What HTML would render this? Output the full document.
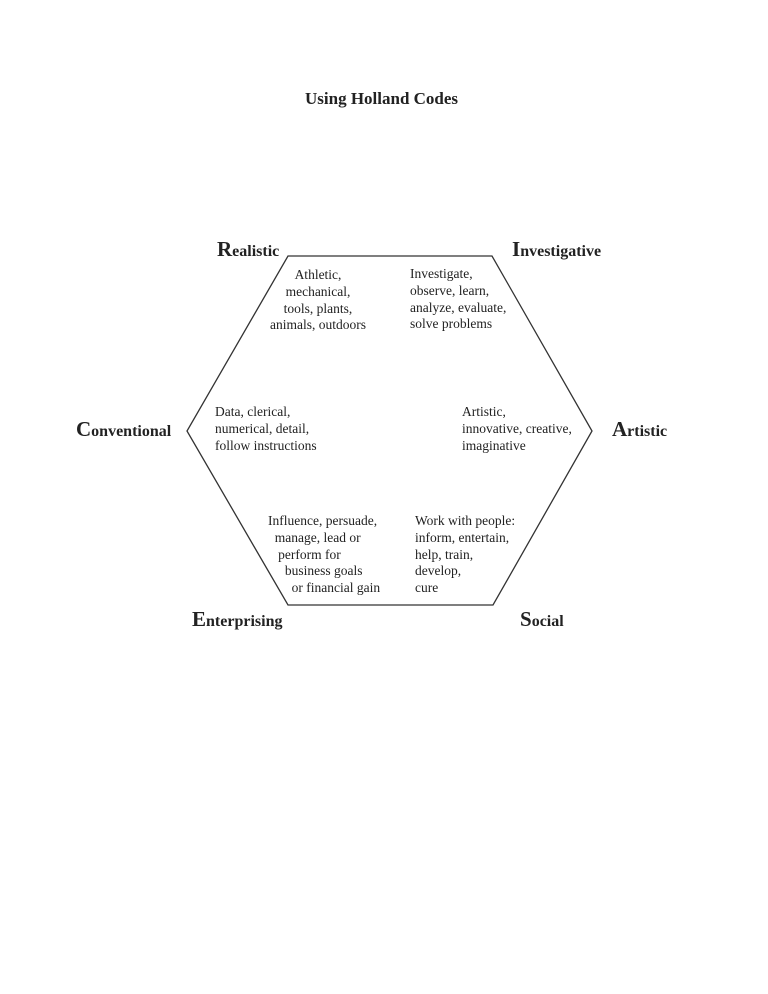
<!DOCTYPE html>
<html><head><meta charset="utf-8"><style>
body{margin:0;background:#fff;width:768px;height:994px;position:relative;font-family:"Liberation Serif",serif;color:#222}
.t{position:absolute;font-size:13.5px;line-height:16.8px;white-space:pre}
.h{position:absolute;font-weight:bold;font-size:16px;white-space:pre}
.h b{font-size:21px}
</style></head><body>
<div class="h" style="left:305px;top:89px;font-size:17px">Using Holland Codes</div>
<svg width="768" height="994" style="position:absolute;left:0;top:0">
<polygon points="288,256 492,256 592,431 493,605 288,605 187,431" fill="none" stroke="#333" stroke-width="1.3"/>
</svg>
<div class="h" style="left:217px;top:237px"><b>R</b>ealistic</div>
<div class="h" style="left:512px;top:237px"><b>I</b>nvestigative</div>
<div class="h" style="left:76px;top:417px"><b>C</b>onventional</div>
<div class="h" style="left:612px;top:417px"><b>A</b>rtistic</div>
<div class="h" style="left:192px;top:607px"><b>E</b>nterprising</div>
<div class="h" style="left:520px;top:607px"><b>S</b>ocial</div>
<div class="t" style="left:258px;width:120px;top:267px;text-align:center">Athletic,
mechanical,
tools, plants,
animals, outdoors</div>
<div class="t" style="left:410px;top:266px">Investigate,
observe, learn,
analyze, evaluate,
solve problems</div>
<div class="t" style="left:215px;top:404px">Data, clerical,
numerical, detail,
follow instructions</div>
<div class="t" style="left:462px;top:404px">Artistic,
innovative, creative,
imaginative</div>
<div class="t" style="left:268px;top:513px">Influence, persuade,
  manage, lead or
   perform for
     business goals
       or financial gain</div>
<div class="t" style="left:415px;top:513px">Work with people:
inform, entertain,
help, train,
develop,
cure</div>
</body></html>
